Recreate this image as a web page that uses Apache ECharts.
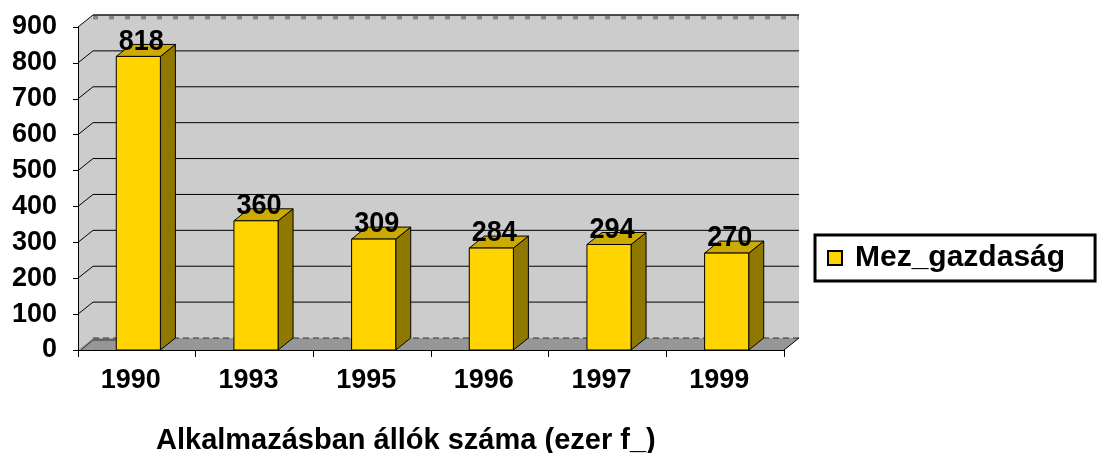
<!DOCTYPE html>
<html>
<head>
<meta charset="utf-8">
<script src="https://cdn.jsdelivr.net/npm/echarts@6/dist/echarts.min.js"></script>
<style>html,body{margin:0;padding:0;background:#fff;}#c{width:1101px;height:453px;}</style>
</head>
<body>
<div id="c"></div>
<script>
const categories = ['1990', '1993', '1995', '1996', '1997', '1999'];
const values = [818, 360, 309, 284, 294, 270];
const yTicks = [0, 100, 200, 300, 400, 500, 600, 700, 800, 900];
const seriesName = 'Mez_gazdaság';
const titleText = 'Alkalmazásban állók száma (ezer f_)';

const FONT = 'Liberation Sans, Arial, sans-serif';
const DX = 15, DY = 12;
const C_FRONT = '#FFD400', C_SIDE = '#8E7800', C_TOP = '#CCAA00';
const C_WALL = '#CCCCCC', C_FLOOR = '#969696';

const chart = echarts.init(document.getElementById('c'));

function wallsRender(params, api) {
  const cs = params.coordSys;
  const x0 = cs.x, x1 = cs.x + cs.width, yT = cs.y, yB = cs.y + cs.height;
  return {
    type: 'group',
    children: [
      { type: 'polygon', shape: { points: [[x0, yT], [x0 + DX, yT - DY], [x0 + DX, yB - DY], [x0, yB]] },
        style: { fill: C_WALL, stroke: null } },
      { type: 'rect', shape: { x: x0 + DX, y: yT - DY, width: cs.width, height: cs.height },
        style: { fill: C_WALL, stroke: null } },
      { type: 'polygon', shape: { points: [[x0, yB], [x0 + DX, yB - DY], [x1 + DX, yB - DY], [x1, yB]] },
        style: { fill: C_FLOOR, stroke: null } },
      { type: 'polyline', shape: { points: [[x0 + DX, yB - DY], [x1 + DX, yB - DY]] },
        style: { stroke: '#333', lineWidth: 1, lineDash: [6, 4], fill: null } },
      { type: 'polyline', shape: { points: [[x0 + 3, yB], [x0 + DX, yB - DY + 2], [x0 + DX + 60, yB - DY + 2]] },
        style: { stroke: '#333', lineWidth: 1, fill: null } },
      { type: 'polyline', shape: { points: [[x1, yB], [x1 + DX, yB - DY]] },
        style: { stroke: '#000', lineWidth: 1, fill: null } },
      { type: 'polyline', shape: { points: [[x0 + DX, yT - DY], [x1 + DX, yT - DY]] },
        style: { stroke: '#444', lineWidth: 1, fill: null } },
      { type: 'polyline', shape: { points: [[x0 + DX, yT - DY + 2.5], [x1 + DX, yT - DY + 2.5]] },
        style: { stroke: '#888', lineWidth: 4, lineDash: [5, 11], fill: null } }
    ]
  };
}

function gridRender(params, api) {
  const cs = params.coordSys;
  const v = api.value(0);
  const y = api.coord([0, v])[1];
  const x0 = cs.x, x1 = cs.x + cs.width;
  if (v === 0) return null;
  return {
    type: 'polyline',
    shape: { points: [[x0, y], [x0 + DX, y - DY], [x1 + DX, y - DY]] },
    style: { stroke: '#000', lineWidth: 1, fill: null }
  };
}

function barRender(params, api) {
  const i = api.value(0), v = api.value(1);
  const top = api.coord([i, v]);
  const base = api.coord([i, 0]);
  const w = api.size([1, 0])[0] * 0.375;
  const x0 = top[0] - w / 2 + 1.5, x1 = x0 + w;
  const yt = top[1], yb = base[1];
  return {
    type: 'group',
    children: [
      { type: 'polygon', shape: { points: [[x1, yb], [x1 + DX, yb - DY], [x1 + DX, yt - DY], [x1, yt]] },
        style: { fill: C_SIDE, stroke: '#000', lineWidth: 1 } },
      { type: 'polygon', shape: { points: [[x0, yt], [x0 + DX, yt - DY], [x1 + DX, yt - DY], [x1, yt]] },
        style: { fill: C_TOP, stroke: '#000', lineWidth: 1 } },
      { type: 'rect', shape: { x: x0, y: yt, width: w, height: yb - yt },
        style: { fill: C_FRONT, stroke: '#000', lineWidth: 1 } },
      { type: 'text', x: (x0 + x1) / 2 + 3, y: yt - 15, scaleY: 1.1,
        style: { text: String(v), fill: '#000', font: 'bold 27px ' + FONT, align: 'center', verticalAlign: 'middle' } }
    ]
  };
}

chart.setOption({
  animation: false,
  backgroundColor: '#fff',
  title: {
    text: titleText, left: 151, top: 421,
    textStyle: { fontSize: 29, fontWeight: 'bold', color: '#000', fontFamily: FONT }
  },
  legend: {
    left: 815, top: 235, orient: 'vertical',
    borderColor: '#000', borderWidth: 3, padding: [8, 30, 8, 12],
    itemWidth: 14, itemHeight: 14, icon: 'rect',
    textStyle: { fontSize: 30, fontWeight: 'bold', color: '#000', fontFamily: FONT, padding: [0, 0, 0, 8], lineHeight: 30 },
    data: [{ name: seriesName, itemStyle: { color: C_FRONT, borderColor: '#000', borderWidth: 2 } }]
  },
  grid: { left: 78, right: 317, top: 27, bottom: 103, containLabel: false },
  xAxis: {
    type: 'category', data: categories, boundaryGap: true,
    axisLine: { show: true, lineStyle: { color: '#000', width: 1 } },
    axisTick: { show: true, length: 7, interval: 0, lineStyle: { color: '#000' } },
    axisLabel: { margin: 17, color: '#000', fontSize: 27, fontWeight: 'bold', fontFamily: FONT, padding: [0, 12, 0, 0], lineHeight: 28 },
    splitLine: { show: false }, z: 10
  },
  yAxis: {
    type: 'value', min: 0, max: 900, interval: 100,
    axisLine: { show: true, lineStyle: { color: '#000', width: 1 } },
    axisTick: { show: true, length: 5, lineStyle: { color: '#000' } },
    axisLabel: { margin: 21, color: '#000', fontSize: 27, fontWeight: 'bold', fontFamily: FONT },
    splitLine: { show: false }, z: 10
  },
  series: [
    { type: 'custom', name: 'walls', renderItem: wallsRender, data: [[0, 0]], z: 1, silent: true, legendHoverLink: false },
    { type: 'custom', name: 'grid', renderItem: gridRender, data: yTicks.map(t => [t]), encode: { y: 0 }, z: 2, silent: true },
    { type: 'custom', name: seriesName, renderItem: barRender, data: values.map((v, i) => [i, v]), encode: { x: 0, y: 1 }, z: 3,
      itemStyle: { color: C_FRONT } }
  ]
});
</script>
</body>
</html>
